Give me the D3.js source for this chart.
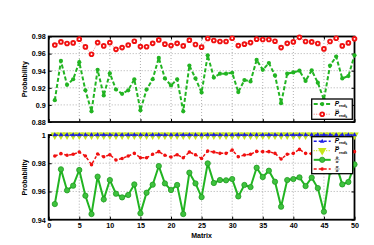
<!DOCTYPE html>
<html><head><meta charset="utf-8">
<script src="https://cdn.jsdelivr.net/npm/d3@7"></script>
<style>
body{margin:0;background:#fff}
svg{display:block}
text{font-family:"Liberation Sans",Arial,sans-serif;font-weight:bold;fill:#000}
</style></head><body>
<svg id="c" width="374" height="245"></svg>
<script>
const matrices = d3.range(1, 51);
const xTicks = [0,5,10,15,20,25,30,35,40,45,50];
const topTicks = [0.88,0.9,0.92,0.94,0.96,0.98];
const bottomTicks = [0.94,0.96,0.98,1];
const topTickLabels = ["0.88","0.9","0.92","0.94","0.96","0.98"];
const bottomTickLabels = ["0.94","0.96","0.98","1"];

const pRndTop = [0.9055,0.9514,0.9235,0.930,0.950,0.917,0.8925,0.941,0.911,0.937,
 0.918,0.913,0.917,0.930,0.8937,0.918,0.930,0.955,0.931,0.9227,
 0.930,0.8925,0.946,0.931,0.9145,0.958,0.932,0.9365,0.9365,0.9376,
 0.915,0.929,0.9275,0.9526,0.941,0.949,0.9345,0.902,0.9365,0.938,
 0.940,0.928,0.9404,0.926,0.906,0.946,0.9565,0.931,0.9337,0.958];
const pBarTop = [0.970,0.9737,0.9718,0.9725,0.9769,0.9678,0.9592,0.9729,0.969,0.9729,
 0.965,0.967,0.970,0.9745,0.9682,0.968,0.972,0.976,0.971,0.9694,
 0.972,0.969,0.9757,0.9706,0.9675,0.9776,0.9753,0.9741,0.9741,0.978,
 0.9694,0.971,0.9729,0.9769,0.9765,0.9765,0.9745,0.967,0.972,0.9737,
 0.979,0.9741,0.9737,0.9718,0.9655,0.9741,0.978,0.969,0.9725,0.9773];
const pRndBottom = matrices.map(() => 1);
const pBarBottom = matrices.map(() => 1);
const alphaRatio = [0.9511,0.9757,0.9608,0.9641,0.9752,0.957,0.944,0.9705,0.9544,0.9681,
 0.9584,0.9558,0.9575,0.965,0.9445,0.9591,0.9648,0.978,0.9657,0.961,
 0.9646,0.944,0.9733,0.9657,0.956,0.9799,0.966,0.9681,0.9679,0.9688,
 0.9565,0.9646,0.9631,0.9768,0.9702,0.9747,0.9669,0.9492,0.9681,0.9688,
 0.970,0.9638,0.9698,0.9624,0.9457,0.974,0.979,0.965,0.9667,0.9792];
const alphaRatio2 = [0.9851,0.9868,0.9856,0.9863,0.9879,0.9851,0.979,0.9865,0.9846,0.986,
 0.9823,0.9834,0.9851,0.987,0.9839,0.9839,0.9863,0.9882,0.9856,0.9844,
 0.986,0.9839,0.9879,0.986,0.9834,0.9886,0.9879,0.987,0.987,0.9893,
 0.9846,0.9858,0.9863,0.9884,0.9882,0.9882,0.987,0.983,0.9863,0.987,
 0.9898,0.987,0.9868,0.9859,0.9828,0.987,0.989,0.9845,0.9862,0.9882];

const svg = d3.select("#c");
const X0 = 48.7, X1 = 354.5;
const x = d3.scaleLinear().domain([0,50]).range([X0, X1]);
const yTop = d3.scaleLinear().domain([0.88,0.98]).range([122, 36.5]);
const yBot = d3.scaleLinear().domain([0.94,1]).range([219.7, 135]);

const C = {green:"#22b422", red:"#f01010", pink:"#f07878", blue:"#1c1ce6", yellow:"#c4e61a", dgreen:"#1f9a1f"};

function frame(y, ticks, labels, showX) {
  const g = svg.append("g");
  g.selectAll(".gx").data(xTicks.slice(1,-1)).join("line")
    .attr("x1", d=>x(d)).attr("x2", d=>x(d)).attr("y1", y.range()[0]).attr("y2", y.range()[1])
    .attr("stroke","#9a9a9a").attr("stroke-width",0.8).attr("stroke-dasharray","1,2");
  g.selectAll(".gy").data(ticks.slice(1,-1)).join("line")
    .attr("x1", X0).attr("x2", X1).attr("y1", d=>y(d)).attr("y2", d=>y(d))
    .attr("stroke","#9a9a9a").attr("stroke-width",0.8).attr("stroke-dasharray","1,2");
  const fmt = (d)=>labels[ticks.indexOf(d)];
  const la = g.append("g").attr("transform",`translate(${X0},0)`)
    .call(d3.axisLeft(y).tickValues(ticks).tickFormat(fmt).tickSizeInner(-3).tickSizeOuter(0).tickPadding(3));
  const ra = g.append("g").attr("transform",`translate(${X1},0)`)
    .call(d3.axisRight(y).tickValues(ticks).tickFormat("").tickSizeInner(-3).tickSizeOuter(0));
  const ba = g.append("g").attr("transform",`translate(0,${y.range()[0]})`)
    .call(d3.axisBottom(x).tickValues(xTicks).tickFormat(showX ? d3.format("d") : "").tickSizeInner(-3).tickSizeOuter(0).tickPadding(3));
  const ta = g.append("g").attr("transform",`translate(0,${y.range()[1]})`)
    .call(d3.axisTop(x).tickValues(xTicks).tickFormat("").tickSizeInner(-3).tickSizeOuter(0));
  [la,ra,ba,ta].forEach(a=>{
    a.select(".domain").remove();
    a.selectAll("line").attr("stroke","#000").attr("stroke-width",1);
    a.selectAll("text").attr("font-size",7.2).attr("font-family","Liberation Sans, Arial, sans-serif").attr("font-weight","bold").attr("fill","#000");
  });
  g.append("rect").attr("x",X0).attr("y",y.range()[1]).attr("width",X1-X0).attr("height",y.range()[0]-y.range()[1])
    .attr("fill","none").attr("stroke","#000").attr("stroke-width",1.8);
  const ym = (y.range()[0]+y.range()[1])/2;
  g.append("text").attr("transform",`translate(27,${ym}) rotate(-90)`).attr("text-anchor","middle")
    .attr("font-size",7).text("Probability");
  return g;
}

frame(yTop, topTicks, topTickLabels, false);
frame(yBot, bottomTicks, bottomTickLabels, true);
svg.append("text").attr("x", x(25)).attr("y", 238).attr("text-anchor","middle").attr("font-size",7).text("Matrix");

function series(y, vals, o) {
  const g = svg.append("g");
  const line = d3.line().x((d,i)=>x(matrices[i])).y(d=>y(d));
  g.append("path").attr("d", line(vals)).attr("fill","none").attr("stroke",o.color)
    .attr("stroke-width",o.lw).attr("stroke-dasharray",o.dash||null);
  g.selectAll("path.m").data(vals).join("path").attr("class","m")
    .attr("transform",(d,i)=>`translate(${x(matrices[i])},${y(d)})${o.rot?" rotate(180)":""}`)
    .attr("d", d3.symbol().type(o.sym).size(o.size)())
    .attr("fill",o.fill).attr("stroke",o.stroke||"none").attr("stroke-width",o.sw||0);
}

const S = {
  pRnd: {color:C.green, lw:2, dash:"4,2.2", sym:d3.symbolCircle, size:14, fill:C.green},
  pBar: {color:C.pink, lw:1, dash:"1,1.5", sym:d3.symbolCircle, size:11, fill:"#fff", stroke:C.red, sw:1.9},
  pRndB:{color:C.blue, lw:1.5, dash:"3,2", sym:d3.symbolTriangle, size:9, fill:C.blue},
  pBarB:{color:C.yellow, lw:1.2, dash:"1,1.5", sym:d3.symbolTriangle, size:32, fill:C.yellow, rot:true},
  alpha:{color:C.green, lw:2, sym:d3.symbolCircle, size:22, fill:"#3ec23e", stroke:C.dgreen, sw:0.8},
  alpha2:{color:C.red, lw:1.5, dash:"3,2", sym:d3.symbolCircle, size:10, fill:C.red}
};

series(yTop, pRndTop, S.pRnd);
series(yTop, pBarTop, S.pBar);
series(yBot, alphaRatio, S.alpha);
series(yBot, alphaRatio2, S.alpha2);
series(yBot, pBarBottom, S.pBarB);
series(yBot, pRndBottom, S.pRndB);

function legendLabel(g, lx, ly, kind) {
  if (kind === "P" || kind === "Pbar") {
    const t = g.append("text").attr("x",lx).attr("y",ly).attr("font-weight","normal")
      .attr("font-family","Liberation Serif, serif").attr("font-size",6.5);
    t.append("tspan").attr("font-style","italic").text("P");
    t.append("tspan").attr("font-size",4).attr("dy",1.5).text("rnd");
    t.append("tspan").attr("font-size",3).attr("dy",0.8).text("k");
    if (kind === "Pbar") g.append("line").attr("x1",lx+0.5).attr("x2",lx+4.3).attr("y1",ly-5.6).attr("y2",ly-5.6).attr("stroke","#000").attr("stroke-width",0.5);
  } else {
    const num = kind === "a1" ? "α̃" : "α";
    const den = kind === "a1" ? "α" : "ᾱ";
    g.append("text").attr("x",lx+1).attr("y",ly-2.4).attr("font-weight","normal").attr("font-style","italic")
      .attr("font-family","Liberation Serif, serif").attr("font-size",4.3).text(num);
    g.append("line").attr("x1",lx).attr("x2",lx+5).attr("y1",ly-1.6).attr("y2",ly-1.6).attr("stroke","#000").attr("stroke-width",0.4);
    g.append("text").attr("x",lx+1).attr("y",ly+1.8).attr("font-weight","normal").attr("font-style","italic")
      .attr("font-family","Liberation Serif, serif").attr("font-size",4.3).text(den);
  }
}

function legend(x0, y0, w, h, items) {
  const g = svg.append("g");
  g.append("rect").attr("x",x0).attr("y",y0).attr("width",w).attr("height",h)
    .attr("fill","#fff").attr("stroke","#000").attr("stroke-width",1.3);
  items.forEach((it, i) => {
    const cy = y0 + (i+0.5)*h/items.length;
    const o = it.s;
    g.append("line").attr("x1",x0+2).attr("x2",x0+19).attr("y1",cy).attr("y2",cy)
      .attr("stroke",o.color).attr("stroke-width",o.lw).attr("stroke-dasharray",o.dash||null);
    g.append("path").attr("transform",`translate(${x0+10.5},${cy})${o.rot?" rotate(180)":""}`)
      .attr("d", d3.symbol().type(o.sym).size(o.size)())
      .attr("fill",o.fill).attr("stroke",o.stroke||"none").attr("stroke-width",o.sw||0);
    legendLabel(g, x0+23, cy+1.5, it.k);
  });
}

legend(311.7, 99, 40.6, 20.3, [{s:S.pRnd,k:"P"},{s:S.pBar,k:"Pbar"}]);
legend(311.7, 136.7, 41, 37, [{s:S.pRndB,k:"P"},{s:S.pBarB,k:"Pbar"},{s:S.alpha,k:"a1"},{s:S.alpha2,k:"a2"}]);
</script>
</body></html>
